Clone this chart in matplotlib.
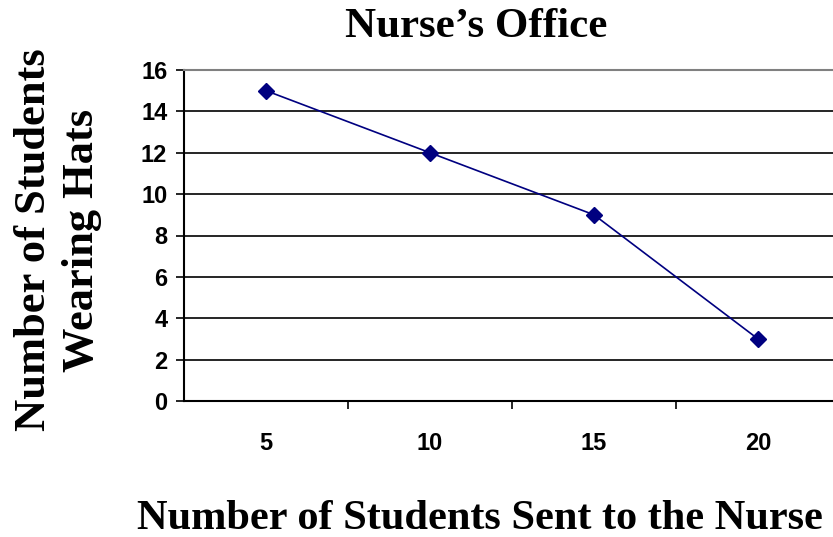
import matplotlib
matplotlib.use("Agg")
from matplotlib import pyplot as plt

# students sent to the nurse vs students wearing hats
sent = ["5", "10", "15", "20"]
hats = [15, 12, 9, 3]
y_ticks = [0, 2, 4, 6, 8, 10, 12, 14, 16]

serif = "Liberation Serif"
sans = "Liberation Sans"

fig = plt.figure(figsize=(8.33, 5.37), dpi=100)
ax = fig.add_axes([184 / 833, 1 - 401 / 537, 656 / 833, 331 / 537])

pos = list(range(len(sent)))
ax.plot(pos, hats, color="#000080", lw=1.2, marker="D", markersize=8,
        markerfacecolor="#000080", markeredgecolor="#000080", zorder=3)

ax.set_xlim(-0.5, len(sent) - 0.5)
ax.set_ylim(0, 16)
ax.set_yticks(y_ticks)
ax.set_xticks(pos)
ax.set_xticklabels(sent)
# tick marks sit between the categories, labels under the centres
ax.set_xticks([p + 0.5 for p in pos[:-1]], minor=True)
ax.tick_params(axis="x", which="major", length=0, pad=22)
ax.tick_params(axis="x", which="minor", length=6, width=1.2, direction="out", color="black")
ax.tick_params(axis="y", length=6, width=1.2, direction="out", pad=6)

for lab in ax.get_xticklabels() + ax.get_yticklabels():
    lab.set_fontfamily(sans)
    lab.set_fontweight("bold")
    lab.set_fontsize(17)

for v in y_ticks[1:-1]:
    ax.axhline(v, color="black", lw=1.2, zorder=1)

ax.spines["left"].set_color("black")
ax.spines["left"].set_linewidth(1.5)
ax.spines["bottom"].set_color("black")
ax.spines["bottom"].set_linewidth(1.5)
ax.spines["top"].set_color("#808080")
ax.spines["top"].set_linewidth(1.5)
ax.spines["right"].set_color("#808080")

fig.text(476 / 833, 1 - 27 / 537, "Nurse\u2019s Office", ha="center", va="center",
         fontfamily=serif, fontweight="bold", fontsize=31)
fig.text(480 / 833, 1 - 519 / 537, "Number of Students Sent to the Nurse",
         ha="center", va="center", fontfamily=serif, fontweight="bold", fontsize=30.5)
fig.text(58 / 833, 1 - 240 / 537, "Number of Students\nWearing Hats", ha="center",
         va="center", rotation=90, fontfamily=serif, fontweight="bold", fontsize=32,
         linespacing=1.25, multialignment="center")

fig.savefig("out.png", dpi=100)
